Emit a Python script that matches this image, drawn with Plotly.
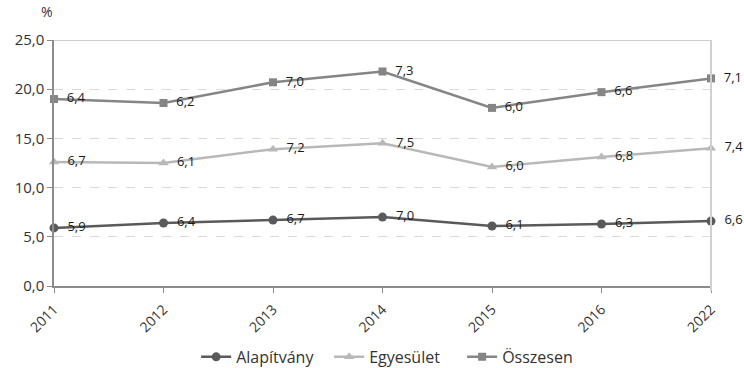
import plotly.graph_objects as go

years = ["2011", "2012", "2013", "2014", "2015", "2016", "2022"]

alapitvany = [5.9, 6.4, 6.7, 7.0, 6.1, 6.3, 6.6]
egyesulet = [12.6, 12.5, 13.9, 14.5, 12.1, 13.1, 14.0]
osszesen = [19.0, 18.6, 20.7, 21.8, 18.1, 19.7, 21.1]

alapitvany_labels = ["5,9", "6,4", "6,7", "7,0", "6,1", "6,3", "6,6"]
egyesulet_labels = ["6,7", "6,1", "7,2", "7,5", "6,0", "6,8", "7,4"]
osszesen_labels = ["6,4", "6,2", "7,0", "7,3", "6,0", "6,6", "7,1"]

y_ticks = [0, 5, 10, 15, 20, 25]
y_tick_text = ["0,0", "5,0", "10,0", "15,0", "20,0", "25,0"]

FONT = "Open Sans"

series = [
    ("Alapítvány", alapitvany, alapitvany_labels, "#5a5a5a", "circle", 9),
    ("Egyesület", egyesulet, egyesulet_labels, "#b8b8b8", "triangle-up", 9),
    ("Összesen", osszesen, osszesen_labels, "#858585", "square", 8),
]

fig = go.Figure()
for name, vals, labels, color, symbol, size in series:
    fig.add_trace(go.Scatter(
        x=years, y=vals, name=name, mode="lines+markers+text",
        text=["  " + t for t in labels], textposition="middle right",
        textfont=dict(family=FONT, size=13, color="#1a1a1a"),
        line=dict(color=color, width=2.5),
        marker=dict(symbol=symbol, size=size, color=color),
        cliponaxis=False,
    ))

fig.update_layout(
    width=744, height=368,
    margin=dict(l=54, r=33, t=40, b=82, autoexpand=False),
    plot_bgcolor="white", paper_bgcolor="white",
    font=dict(family=FONT, size=14, color="#333333"),
    showlegend=True,
    legend=dict(orientation="h", x=0.52, xanchor="center",
                yref="container", y=0.03, yanchor="middle",
                font=dict(family=FONT, size=16, color="#333333"),
                entrywidth=88, entrywidthmode="pixels",
                tracegroupgap=0),
    xaxis=dict(
        type="category", tickangle=-45, showgrid=False, automargin=False,
        showline=True, linecolor="#8c8c8c", linewidth=1.5,
        ticks="outside", ticklen=5, tickcolor="#8c8c8c",
        tickfont=dict(family=FONT, size=14, color="#333333"),
        ticklabelstandoff=3,
        range=[0, 6],
    ),
    yaxis=dict(
        range=[0, 25], tickvals=y_ticks, ticktext=y_tick_text, automargin=False,
        showline=True, linecolor="#8c8c8c", linewidth=1.5,
        ticks="outside", ticklen=5, tickcolor="#8c8c8c",
        showgrid=True, gridcolor="#d9d9d9", griddash="dash", gridwidth=1,
        zeroline=False,
        tickfont=dict(family=FONT, size=15, color="#333333"),
    ),
    shapes=[
        dict(type="line", xref="paper", yref="y", x0=0, x1=1, y0=25, y1=25,
             line=dict(color="#bdbdbd", width=1.5)),
        dict(type="line", xref="paper", yref="paper", x0=1, x1=1, y0=-0.02, y1=1,
             line=dict(color="#d0d0d0", width=2)),
    ],
    annotations=[
        dict(text="%", xref="paper", yref="paper", x=-0.01, y=1.07,
             xanchor="center", yanchor="bottom", showarrow=False,
             font=dict(family=FONT, size=14, color="#333333")),
    ],
)

fig.write_html("out.html")
